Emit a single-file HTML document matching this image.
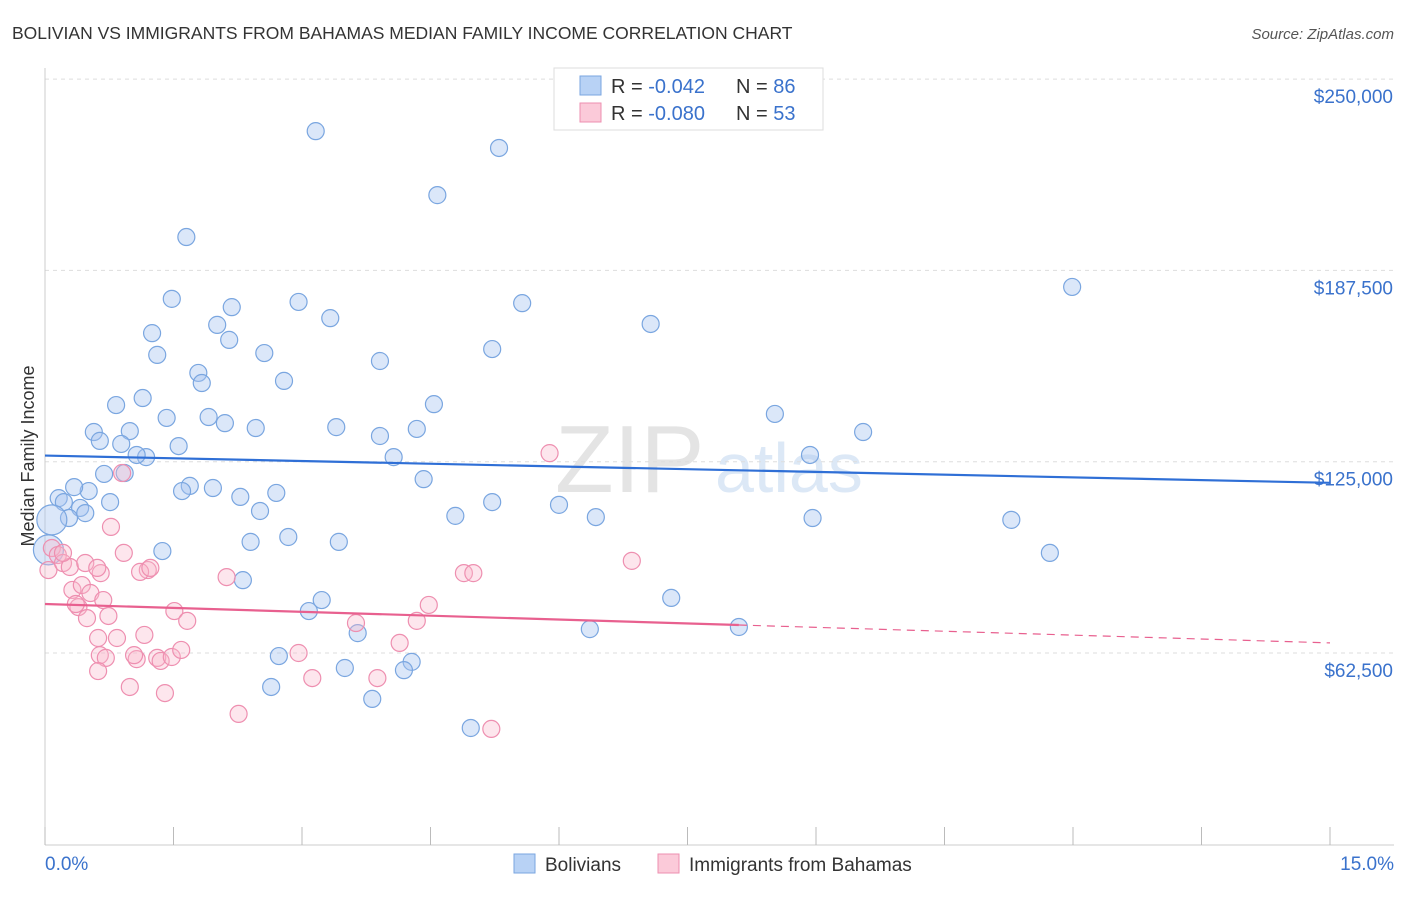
<!DOCTYPE html>
<html><head><meta charset="utf-8"><style>
body{margin:0;background:#fff;font-family:"Liberation Sans",sans-serif;}
svg text{font-family:"Liberation Sans",sans-serif;}
</style></head><body>
<svg id="chart" width="1406" height="892" xmlns="http://www.w3.org/2000/svg">
<text x="12" y="39" font-size="17.5" fill="#333">BOLIVIAN VS IMMIGRANTS FROM BAHAMAS MEDIAN FAMILY INCOME CORRELATION CHART</text>
<text x="1394" y="39" font-size="15" fill="#555" text-anchor="end" font-style="italic">Source: ZipAtlas.com</text>
<text x="555" y="492" font-size="96" fill="#e4e4e4" font-family="Liberation Serif">ZIP</text>
<text x="715" y="492" font-size="70" fill="#dce8f6">atlas</text>
<text transform="translate(34,456) rotate(-90)" font-size="18" fill="#333" text-anchor="middle">Median Family Income</text>
<g id="grid"></g><g id="axes"></g><g id="marks"></g>
<g>
<rect x="554" y="68" width="269" height="62" fill="#fff" stroke="#ddd"/>
<rect x="580" y="76" width="21" height="19" fill="#b8d2f5" stroke="#7aa6e0"/>
<rect x="580" y="103" width="21" height="19" fill="#fbcad9" stroke="#ee8fb0"/>
<text x="611" y="93" font-size="20" fill="#333">R = <tspan fill="#3a72cc">-0.042</tspan></text>
<text x="736" y="93" font-size="20" fill="#333">N = <tspan fill="#3a72cc">86</tspan></text>
<text x="611" y="120" font-size="20" fill="#333">R = <tspan fill="#3a72cc">-0.080</tspan></text>
<text x="736" y="120" font-size="20" fill="#333">N = <tspan fill="#3a72cc">53</tspan></text>
</g>
<g>
<rect x="514" y="854" width="21" height="19" fill="#b8d2f5" stroke="#7aa6e0"/>
<text x="545" y="871" font-size="19" fill="#333">Bolivians</text>
<rect x="658" y="854" width="21" height="19" fill="#fbcad9" stroke="#ee8fb0"/>
<text x="689" y="871" font-size="19" fill="#333">Immigrants from Bahamas</text>
</g>
</svg>
<script>
const xTicks=[0,1.5,3,4.5,6,7.5,9,10.5,12,13.5,15];
const yTicks=[62.5,125,187.5,250];
const yTickLabels=["$62,500","$125,000","$187,500","$250,000"];
const blueX=[3.16,5.30,4.58,1.65,11.99,1.48,2.18,2.96,5.57,3.33,2.01,7.07,1.25,2.15,1.31,2.56,5.22,3.91,1.79,1.83,2.79,1.14,0.83,4.54,1.42,1.91,2.10,2.46,3.40,4.34,3.91,0.57,0.64,0.99,0.89,1.56,1.18,1.07,4.07,8.52,8.93,9.55,0.69,0.93,1.69,1.96,1.60,0.51,4.42,0.16,0.34,0.22,0.76,2.28,2.70,0.41,0.47,0.28,2.51,4.79,5.22,6.00,6.43,8.96,11.28,2.40,2.84,3.43,1.37,11.73,2.31,3.23,3.08,7.31,3.65,6.36,8.10,2.73,4.28,4.19,3.50,2.64,3.82,4.97];
const blueY=[233.0,227.5,212.1,198.4,182.1,178.2,175.5,177.2,176.8,171.9,169.7,170.0,167.0,164.8,159.9,160.5,161.8,157.9,154.0,150.7,151.4,145.8,143.5,143.8,139.3,139.6,137.6,136.0,136.3,135.7,133.4,134.7,131.8,135.0,130.8,130.1,126.5,127.2,126.5,140.6,127.2,134.7,121.0,121.3,117.1,116.4,115.4,115.4,119.3,113.1,116.7,111.8,111.8,113.5,114.8,109.9,108.2,106.6,108.9,107.3,111.8,110.9,106.9,106.6,106.0,98.8,100.4,98.8,95.8,95.2,86.3,79.8,76.2,80.5,69.0,70.3,71.0,61.5,59.6,56.9,57.6,51.4,47.5,38.0];
const blueBigX=[0.08,0.04];
const blueBigY=[106.0,96.2];
const pinkX=[5.89,0.90,0.77,0.08,0.15,0.04,0.21,0.29,0.47,0.65,0.92,1.20,1.11,0.61,0.32,0.43,0.53,0.39,0.36,0.49,0.68,0.74,2.12,6.85,4.89,5.00,1.51,1.66,4.48,3.63,4.34,0.62,0.84,1.16,0.64,0.71,1.07,1.04,1.31,1.35,1.48,1.59,2.96,4.14,0.62,3.12,3.88,0.99,1.40,2.26,5.21,0.21,1.23];
const pinkY=[127.8,121.3,103.7,96.8,94.5,89.6,91.9,90.6,91.9,88.6,95.2,89.6,89.0,90.3,83.1,84.7,82.1,77.5,78.5,73.9,79.8,74.6,87.3,92.6,88.6,88.6,76.2,73.0,78.2,72.3,73.0,67.4,67.4,68.4,61.8,60.9,60.5,61.8,60.9,59.9,61.2,63.5,62.5,65.8,56.6,54.3,54.3,51.4,49.4,42.6,37.7,95.2,90.3];
const blueTrend=[127.0,118.1];
const pinkTrend=[78.5,65.8];
const pinkSolidEnd=8.1;

const NS="http://www.w3.org/2000/svg";
const X=v=>45+v*(1330-45)/15;
const Y=v=>653-(v-62.5)*191.3/62.5;
function mk(tag,attrs,parent){const e=document.createElementNS(NS,tag);for(const k in attrs)e.setAttribute(k,attrs[k]);parent.appendChild(e);return e;}
const grid=document.getElementById('grid'),axes=document.getElementById('axes'),marks=document.getElementById('marks');
yTicks.forEach((t,i)=>{
  const l=mk('line',{x1:45,x2:1394,y1:Y(t),y2:Y(t),stroke:'#ddd','stroke-dasharray':'4,4'},grid);
  
  
  const tx=mk('text',{x:1393,y:Y(t)+24,'font-size':19,fill:'#3a72cc','text-anchor':'end'},axes);
  tx.textContent=yTickLabels[i];
  
  
});
const ax=mk('line',{x1:45,x2:1394,y1:845,y2:845,stroke:'#ccc'},axes);


const ay=mk('line',{x1:45,x2:45,y1:68,y2:845,stroke:'#ccc'},axes);


xTicks.forEach(t=>{
  const l=mk('line',{x1:X(t),x2:X(t),y1:827,y2:845,stroke:'#bbb'},axes);
  
  
});
const xl0=mk('text',{x:45,y:870,'font-size':19,fill:'#3a72cc'},axes);xl0.textContent=xTicks[0].toFixed(1)+'%';


const xl1=mk('text',{x:1394,y:870,'font-size':19,fill:'#3a72cc','text-anchor':'end'},axes);xl1.textContent=xTicks[xTicks.length-1].toFixed(1)+'%';



function dot(x,y,r,fill,stroke,name){
  const c=mk('circle',{cx:X(x),cy:Y(y),r:r,fill:fill,stroke:stroke,'stroke-width':1.2},marks);
  
  
}
blueX.forEach((x,i)=>dot(x,blueY[i],8.5,'rgba(164,196,240,0.4)','#7aa6e0','bolivian-point'));
blueBigX.forEach((x,i)=>dot(x,blueBigY[i],15,'rgba(164,196,240,0.4)','#7aa6e0','bolivian-point-large'));
pinkX.forEach((x,i)=>dot(x,pinkY[i],8.5,'rgba(248,182,204,0.35)','#ee8fb0','bahamas-point'));
const bl=mk('line',{x1:X(0),y1:Y(blueTrend[0]),x2:X(15),y2:Y(blueTrend[1]),stroke:'#2f6fd6','stroke-width':2.2},marks);


const pm=pinkTrend[0]+(pinkTrend[1]-pinkTrend[0])*pinkSolidEnd/15;
const pl=mk('line',{x1:X(0),y1:Y(pinkTrend[0]),x2:X(pinkSolidEnd),y2:Y(pm),stroke:'#e8608f','stroke-width':2.2},marks);


const pd=mk('line',{x1:X(pinkSolidEnd),y1:Y(pm),x2:X(15),y2:Y(pinkTrend[1]),stroke:'#e8608f','stroke-width':1.2,'stroke-dasharray':'8,6'},marks);


</script>
</body></html>
